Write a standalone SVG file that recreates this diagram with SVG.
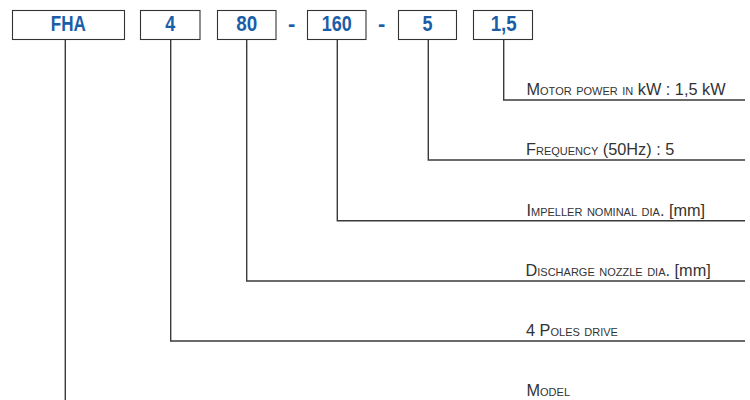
<svg xmlns="http://www.w3.org/2000/svg" width="750" height="400" viewBox="0 0 750 400">
<style>
.box{fill:#fff;stroke:#333;stroke-width:1.1}
.code{font-family:"Liberation Sans",Arial,sans-serif;font-weight:bold;font-size:22px;fill:#1a5ea8;text-anchor:middle}
.lbl{font-family:"Liberation Sans",Arial,sans-serif;font-size:16.3px;fill:#333}
.sc{font-variant:small-caps}
.con{fill:none;stroke:#3a3a3a;stroke-width:1.4}
</style>
<rect width="750" height="400" fill="#fff"/>
<g id="connectors">
<path class="con" d="M65.3,39.5 V400"/>
<path class="con" d="M170.7,39.5 V341 H745"/>
<path class="con" d="M246.7,39.5 V281 H745"/>
<path class="con" d="M337.3,39.5 V220.7 H745"/>
<path class="con" d="M428.3,39.5 V160 H745"/>
<path class="con" d="M503.7,39.5 V100 H745"/>
</g>
<g id="seg-fha"><rect class="box" x="12.5" y="10.5" width="112" height="29"/><text class="code" x="68.3" y="31" textLength="35" lengthAdjust="spacingAndGlyphs">FHA</text></g>
<g id="seg-4"><rect class="box" x="140.5" y="10.5" width="59.5" height="29"/><text class="code" x="170.3" y="31" textLength="10" lengthAdjust="spacingAndGlyphs">4</text></g>
<g id="seg-80"><rect class="box" x="217.5" y="10.5" width="58.5" height="29"/><text class="code" x="246.7" y="31" textLength="21" lengthAdjust="spacingAndGlyphs">80</text></g>
<g id="dash-1"><text class="code" x="291.7" y="31">-</text></g>
<g id="seg-160"><rect class="box" x="307.5" y="10.5" width="58.5" height="29"/><text class="code" x="336.7" y="31" textLength="30" lengthAdjust="spacingAndGlyphs">160</text></g>
<g id="dash-2"><text class="code" x="381.7" y="31">-</text></g>
<g id="seg-5"><rect class="box" x="398.5" y="10.5" width="58" height="29"/><text class="code" x="427.6" y="31" textLength="10" lengthAdjust="spacingAndGlyphs">5</text></g>
<g id="seg-15"><rect class="box" x="473.5" y="10.5" width="59" height="29"/><text class="code" x="503.7" y="31" textLength="26" lengthAdjust="spacingAndGlyphs">1,5</text></g>
<g id="lbl-power"><text class="lbl" x="526.5" y="95">M<tspan class="sc">otor power in</tspan> kW : 1,5 kW</text></g>
<g id="lbl-freq"><text class="lbl" x="526" y="155">F<tspan class="sc">requency</tspan> (50Hz) : 5</text></g>
<g id="lbl-impeller"><text class="lbl" x="526.5" y="215.5">I<tspan class="sc">mpeller nominal dia.</tspan> [mm]</text></g>
<g id="lbl-discharge"><text class="lbl" x="525.5" y="276">D<tspan class="sc">ischarge nozzle dia.</tspan> [mm]</text></g>
<g id="lbl-poles"><text class="lbl" x="526" y="336">4 P<tspan class="sc">oles drive</tspan></text></g>
<g id="lbl-model"><text class="lbl" x="526.5" y="396">M<tspan class="sc">odel</tspan></text></g>
</svg>
